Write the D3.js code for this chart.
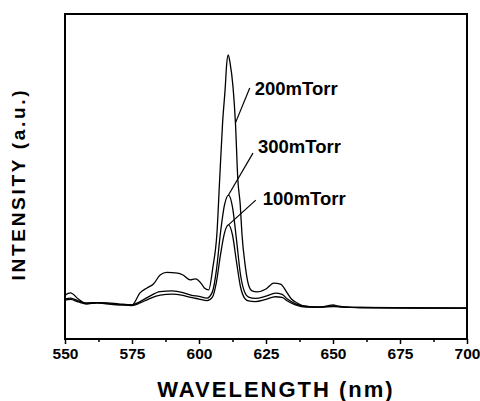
<!DOCTYPE html>
<html>
<head>
<meta charset="utf-8">
<script src="https://cdn.jsdelivr.net/npm/d3@7"></script>
<style>
  body { margin: 0; background: #fff; }
  text { font-family: 'Liberation Sans', Arial, sans-serif; font-weight: bold; fill: #000; }
</style>
</head>
<body>
<div class="box"></div>
<script>
// data (wavelength in nm, intensity in a.u.)
const wl200 = [550, 552, 555, 558, 562, 566, 570, 575, 578, 580.6, 583, 585.5, 588, 592, 594, 596.7, 598.6, 601, 602, 603.6,
               605.2, 606.7, 607.7, 608.8, 609.8, 610.3, 610.9, 611.6, 612.7, 613.6, 614.5, 615.4, 616, 617.3, 618.5, 619.8,
               621.7, 625, 627.9, 630.4, 632.9, 634.5, 636.6, 639, 645, 648, 650, 652, 655, 660, 680, 700];
const int200 = [13.5, 14.2, 12.3, 10.8, 11.1, 10.8, 10.5, 10.5, 14.2, 15.7, 16.9, 19.7, 20.5, 20.3, 19.7, 18.2, 18.5, 16.9, 15.7, 15.1,
                22.2, 32.6, 48.9, 66.5, 77.5, 84.3, 87.4, 84.9, 77.5, 66.5, 48.9, 41.2, 32.6, 22.2, 16.6, 14.8,
                14.5, 15.4, 17.2, 16.9, 14.2, 12.3, 11.1, 10.2, 9.8, 10.2, 10.5, 10.0, 9.8, 9.7, 9.5, 9.5];

const wlLow = [550, 552, 555, 558, 562, 566, 570, 575, 578, 581, 585.5, 590, 594, 597, 600, 603, 605, 606.5, 608, 609.5,
               611, 612.5, 614, 615.5, 617, 618.5, 621, 625, 628.5, 631, 633, 636, 640, 645, 650, 655, 660, 700];
const int300 = [12.3, 12.6, 11.7, 11.1, 11.2, 11.1, 10.8, 10.5, 11.5, 12.9, 14.6, 14.8, 14.3, 13.5, 13.1, 12.6, 14.5, 21.2, 32.6, 41.2,
                44.3, 40.6, 30.5, 19.7, 14.5, 12.9, 12.5, 13.2, 14.1, 13.7, 12.3, 10.8, 10.0, 9.8, 10.2, 9.8, 9.7, 9.5];
const int100 = [12.0, 12.2, 11.4, 10.8, 11.1, 10.9, 10.6, 10.3, 11.1, 12.2, 13.5, 13.8, 13.4, 12.8, 12.3, 11.8, 12.9, 17.5, 25.8, 32.6,
                35.1, 32.0, 23.7, 16.0, 12.6, 11.7, 11.5, 12.2, 13.0, 12.8, 11.7, 10.5, 9.8, 9.8, 10.0, 9.8, 9.6, 9.5];

const xTicks = [550, 575, 600, 625, 650, 675, 700];
const xMinor = [562.5, 587.5, 612.5, 637.5, 662.5, 687.5];

// label text, anchor point on the curve, label position
const labels = ['200mTorr', '300mTorr', '100mTorr'];
const labelAt = [[613.6, 66.5], [611, 44.3], [611, 35.1]];
const textAt = [[620.8, 75.1], [622, 57.2], [623.8, 41.2]];
const leadOffset = [[-5, -7], [-5, 0], [-7, -5]];

const svg = d3.select('.box')
              .append('svg')
              .attr('width', 480)
              .attr('height', 401);

const margin = {top: 14, right: 13, bottom: 62, left: 65};
const graphWidth = 480 - margin.left - margin.right;
const graphHeight = 401 - margin.top - margin.bottom;

const graph = svg.append('g')
                 .attr('transform', `translate(${margin.left}, ${margin.top})`);

const x = d3.scaleLinear().domain([550, 700]).range([0, graphWidth]);
const y = d3.scaleLinear().domain([0, 100]).range([graphHeight, 0]);

// axes
const groupeX = graph.append('g').attr('transform', `translate(0, ${graphHeight})`);
groupeX.call(d3.axisBottom(x).tickValues(xTicks).tickSize(5).tickPadding(4).tickFormat(d3.format('d')));
groupeX.selectAll('text').style('font-size', '15.5px');
groupeX.select('.domain').remove();
groupeX.selectAll('line').attr('stroke-width', 1.5);

const groupeMinor = graph.append('g').attr('transform', `translate(0, ${graphHeight})`);
groupeMinor.call(d3.axisBottom(x).tickValues(xMinor).tickSize(3).tickFormat(''));
groupeMinor.select('.domain').remove();
groupeMinor.selectAll('line').attr('stroke-width', 1.5);

// curves
const line = d3.line().curve(d3.curveMonotoneX);
const series = [[wl200, int200], [wlLow, int300], [wlLow, int100]];
series.forEach(s => {
  graph.append('path')
       .datum(s[0].map((w, i) => [x(w), y(s[1][i])]))
       .attr('d', line)
       .attr('fill', 'none')
       .attr('stroke', '#000')
       .attr('stroke-width', 1.3);
});

// frame
graph.append('rect')
     .attr('x', 0).attr('y', 0)
     .attr('width', graphWidth).attr('height', graphHeight)
     .attr('fill', 'none')
     .attr('stroke', '#000')
     .attr('stroke-width', 2);

// labels with leader lines
labels.forEach((t, i) => {
  const tx = x(textAt[i][0]), ty = y(textAt[i][1]);
  graph.append('line')
       .attr('x1', tx + leadOffset[i][0]).attr('y1', ty + leadOffset[i][1])
       .attr('x2', x(labelAt[i][0])).attr('y2', y(labelAt[i][1]))
       .attr('stroke', '#000').attr('stroke-width', 1.2);
  graph.append('text')
       .attr('x', tx).attr('y', ty)
       .style('font-size', '18.5px')
       .text(t);
});

// axis titles
svg.append('text')
   .attr('x', 276).attr('y', 397)
   .attr('text-anchor', 'middle')
   .style('font-size', '22px')
   .style('letter-spacing', '2px')
   .text('WAVELENGTH (nm)');

svg.append('text')
   .attr('transform', 'translate(25, 184) rotate(-90)')
   .attr('text-anchor', 'middle')
   .style('font-size', '19px')
   .style('letter-spacing', '2.7px')
   .text('INTENSITY (a.u.)');
</script>
</body>
</html>
